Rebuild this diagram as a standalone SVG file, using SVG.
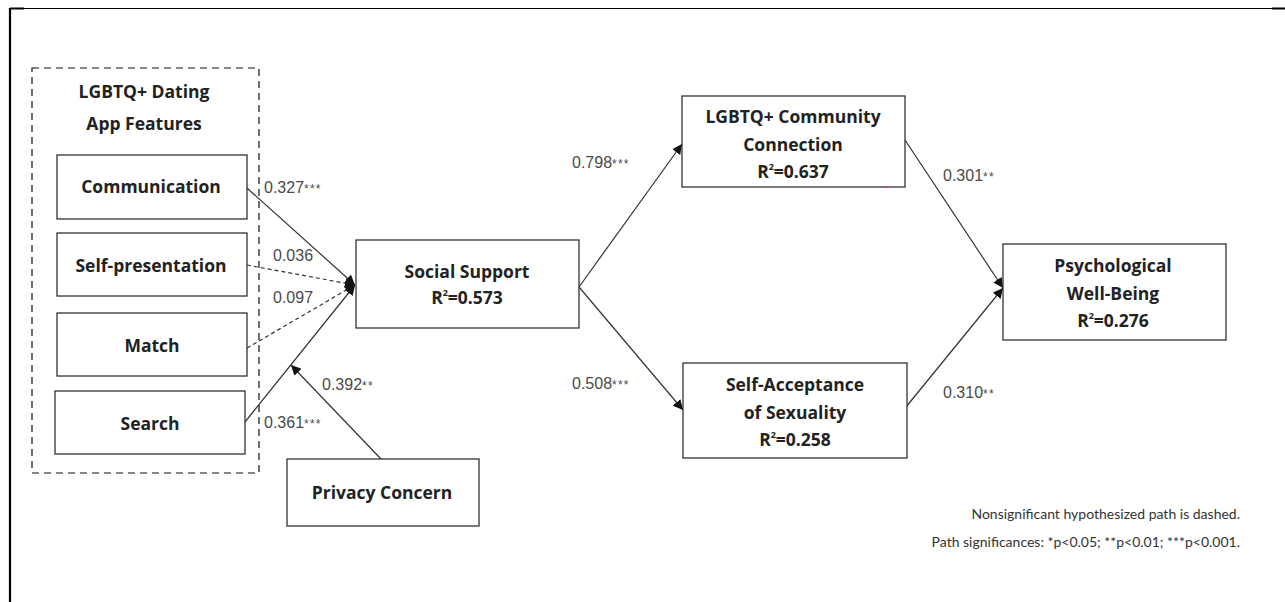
<svg xmlns="http://www.w3.org/2000/svg" width="1285" height="602" viewBox="0 0 1285 602">
  <defs>
    <style>
      .box { fill: #fff; stroke: #333; stroke-width: 1.3; }
      .group { fill: none; stroke: #111; stroke-width: 1.2; stroke-dasharray: 7 5; }
      .name { font-family: "Open Sans", "Noto Sans", sans-serif; font-weight: bold; font-size: 17.5px; fill: #222; text-anchor: middle; }
      .sup { font-size: 9px; }
      .coef { font-family: "Liberation Sans", Arial, sans-serif; font-size: 16px; fill: #4a4a4a; }
      .star { font-size: 12px; letter-spacing: 1.2px; }
      .edge { fill: none; stroke: #333; stroke-width: 1.2; }
      .ns { stroke-dasharray: 4 3; }
      .note { font-family: "Lato", "Liberation Sans", sans-serif; font-size: 14px; fill: #333; text-anchor: end; }
    </style>
    <marker id="arrow" viewBox="0 0 10 10" refX="10" refY="5" markerWidth="10" markerHeight="10" markerUnits="userSpaceOnUse" orient="auto">
      <path d="M0,0 L10,5 L0,10 z" fill="#111"/>
    </marker>
  </defs>

  <rect width="1285" height="602" fill="#fff"/>

  <!-- page frame -->
  <g id="frame" stroke="#000" fill="none">
    <line x1="10" y1="8.5" x2="1285" y2="8.5" stroke-width="1.2"/>
    <line x1="10" y1="8.5" x2="24" y2="8.5" stroke-width="2"/>
    <line x1="1272" y1="8.5" x2="1285" y2="8.5" stroke-width="2"/>
    <line x1="10" y1="8" x2="10" y2="602" stroke-width="2.2"/>
  </g>

  <!-- connectors -->
  <g id="connectors">
    <line class="edge" x1="247" y1="188" x2="355" y2="285" marker-end="url(#arrow)"/>
    <line class="edge ns" x1="247" y1="265" x2="355" y2="285" marker-end="url(#arrow)"/>
    <line class="edge ns" x1="247" y1="348" x2="355" y2="285" marker-end="url(#arrow)"/>
    <line class="edge" x1="245" y1="422" x2="355" y2="285" marker-end="url(#arrow)"/>
    <line class="edge" x1="381" y1="459" x2="291" y2="365" marker-end="url(#arrow)"/>
    <line class="edge" x1="579" y1="287" x2="682" y2="144" marker-end="url(#arrow)"/>
    <line class="edge" x1="579" y1="287" x2="683" y2="410" marker-end="url(#arrow)"/>
    <line class="edge" x1="905" y1="140" x2="1003" y2="288" marker-end="url(#arrow)"/>
    <line class="edge" x1="906" y1="407" x2="1003" y2="288" marker-end="url(#arrow)"/>

    <text class="coef" x="264" y="193">0.327<tspan class="star">***</tspan></text>
    <text class="coef" x="273" y="261">0.036</text>
    <text class="coef" x="273" y="303">0.097</text>
    <text class="coef" x="322" y="390">0.392<tspan class="star">**</tspan></text>
    <text class="coef" x="264" y="428">0.361<tspan class="star">***</tspan></text>
    <text class="coef" x="572" y="168">0.798<tspan class="star">***</tspan></text>
    <text class="coef" x="572" y="389">0.508<tspan class="star">***</tspan></text>
    <text class="coef" x="943" y="181">0.301<tspan class="star">**</tspan></text>
    <text class="coef" x="943" y="398">0.310<tspan class="star">**</tspan></text>
  </g>

  <!-- dating app feature group -->
  <g id="app-features">
    <rect class="group" x="32" y="68" width="227" height="405"/>
    <text class="name" x="144" y="98">LGBTQ+ Dating</text>
    <text class="name" x="144" y="130">App Features</text>
  </g>

  <g id="communication">
    <rect class="box" x="57" y="155" width="190" height="64"/>
    <text class="name" x="151" y="193">Communication</text>
  </g>
  <g id="self-presentation">
    <rect class="box" x="57" y="233" width="190" height="63"/>
    <text class="name" x="151" y="272">Self-presentation</text>
  </g>
  <g id="match">
    <rect class="box" x="57" y="313" width="190" height="63"/>
    <text class="name" x="152" y="352">Match</text>
  </g>
  <g id="search">
    <rect class="box" x="55" y="391" width="190" height="63"/>
    <text class="name" x="150" y="430">Search</text>
  </g>

  <g id="privacy-concern">
    <rect class="box" x="287" y="459" width="192" height="67"/>
    <text class="name" x="382" y="499">Privacy Concern</text>
  </g>

  <g id="social-support">
    <rect class="box" x="356" y="240" width="223" height="88"/>
    <text class="name" x="467" y="278">Social Support</text>
    <text class="name" x="467" y="304">R<tspan class="sup" dy="-8">2</tspan><tspan dy="8">=0.573</tspan></text>
  </g>

  <g id="community-connection">
    <rect class="box" x="682" y="96" width="223" height="91"/>
    <text class="name" x="793" y="123">LGBTQ+ Community</text>
    <text class="name" x="793" y="151">Connection</text>
    <text class="name" x="793" y="178">R<tspan class="sup" dy="-8">2</tspan><tspan dy="8">=0.637</tspan></text>
    <circle cx="886" cy="187" r="1" fill="#f33"/>
  </g>

  <g id="self-acceptance">
    <rect class="box" x="683" y="363" width="224" height="95"/>
    <text class="name" x="795" y="391">Self-Acceptance</text>
    <text class="name" x="795" y="419">of Sexuality</text>
    <text class="name" x="795" y="446">R<tspan class="sup" dy="-8">2</tspan><tspan dy="8">=0.258</tspan></text>
  </g>

  <g id="well-being">
    <rect class="box" x="1003" y="244" width="223" height="96"/>
    <text class="name" x="1113" y="272">Psychological</text>
    <text class="name" x="1113" y="300">Well-Being</text>
    <text class="name" x="1113" y="327">R<tspan class="sup" dy="-8">2</tspan><tspan dy="8">=0.276</tspan></text>
  </g>

  <g id="notes">
    <text class="note" x="1240" y="519">Nonsignificant hypothesized path is dashed.</text>
    <text class="note" x="1240" y="547">Path significances: *p&lt;0.05; **p&lt;0.01; ***p&lt;0.001.</text>
  </g>
</svg>
